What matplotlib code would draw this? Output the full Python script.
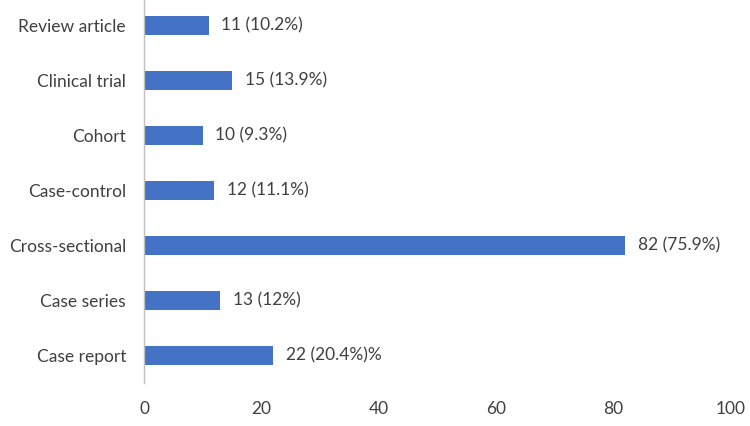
import matplotlib
matplotlib.use("Agg")
import matplotlib.pyplot as plt

categories = ["Case report", "Case series", "Cross-sectional", "Case-control",
              "Cohort", "Clinical trial", "Review article"]
counts = [22, 13, 82, 12, 10, 15, 11]
labels = ["22 (20.4%)%", "13 (12%)", "82 (75.9%)", "12 (11.1%)",
          "10 (9.3%)", "15 (13.9%)", "11 (10.2%)"]
xticks = [0, 20, 40, 60, 80, 100]

plt.rcParams['font.family'] = ['Lato', 'DejaVu Sans']
text_color = "#404040"

fig = plt.figure(figsize=(7.5, 4.26), dpi=100)
ax = fig.add_axes([144/750, 1 - 383/426, (731-144)/750, 385/426])

y = range(len(categories))
bars = ax.barh(y, counts, height=0.34, color="#4472C4")
for b, lab in zip(bars, labels):
    ax.annotate(lab, (b.get_width(), b.get_y() + b.get_height()/2),
                xytext=(9, 0), textcoords="offset points",
                va="center", ha="left", fontsize=12.5, color=text_color)

ax.set_xlim(0, 100)
ax.set_ylim(-0.5, len(categories) - 0.5)
ax.set_yticks(list(y))
ax.set_yticklabels(categories)
ax.set_xticks(xticks)
ax.set_xticklabels([str(t) for t in xticks])
ax.tick_params(axis='both', length=0, labelsize=12.5, labelcolor=text_color)
ax.tick_params(axis='x', pad=13)
ax.tick_params(axis='y', pad=13)
for s in ["top", "right", "bottom"]:
    ax.spines[s].set_visible(False)
ax.spines["left"].set_color("#BFBFBF")
ax.spines["left"].set_linewidth(1)

fig.savefig("out.png", dpi=100)
